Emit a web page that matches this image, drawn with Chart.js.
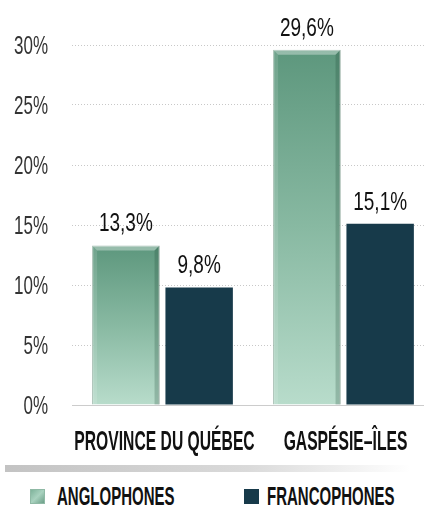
<!DOCTYPE html>
<html>
<head>
<meta charset="utf-8">
<script src="https://cdn.jsdelivr.net/npm/chart.js@4.4.1/dist/chart.umd.min.js"></script>
<style>
  body { margin: 0; width: 424px; height: 510px; overflow: hidden; background: #fff; position: relative; }
  #wrap { position: absolute; left: 0; top: 0; width: 424px; height: 460px; overflow: hidden; }
  .sep { position: absolute; left: 5px; top: 465px; width: 405px; height: 7px;
         background: linear-gradient(to right, #c3c3c3, #dadada 60%, #ffffff); }
  .lg { position: absolute; top: 482px; font-family: 'Liberation Sans', Arial, sans-serif;
        font-size: 25px; font-weight: bold; color: #111; line-height: 28px; white-space: nowrap;
        transform: scaleX(0.6); transform-origin: left top; }
  .sw { position: absolute; top: 489px; width: 15px; height: 15px; }
</style>
</head>
<body>
<div id="wrap"><canvas id="chart" width="434" height="460"></canvas></div>
<div class="sep"></div>
<div class="sw" style="left:30px;background:linear-gradient(135deg,#7fb39b,#a9d2bf 50%,#6c9f88);border:1px solid #8fb9a5;box-sizing:border-box"></div>
<div class="lg" style="left:57px">ANGLOPHONES</div>
<div class="sw" style="left:244px;background:#173a4a"></div>
<div class="lg" style="left:267px">FRANCOPHONES</div>
<script>
const categories = ['PROVINCE DU QUÉBEC', 'GASPÉSIE–ÎLES'];
const anglophones = [13.3, 29.6];
const francophones = [9.8, 15.1];
const yTicks = [0, 5, 10, 15, 20, 25, 30];

const fontFam = "'Liberation Sans', Arial, sans-serif";

// condensed text: the source font is very narrow, so squeeze a normal one
function narrowText(c, txt, x, y, font, sx, align) {
  c.save();
  c.font = font + ' ' + fontFam;
  c.textBaseline = 'alphabetic';
  const w = c.measureText(txt).width * sx;
  let left = x;
  if (align === 'center') left = x - w / 2;
  if (align === 'right') left = x - w;
  c.translate(left, y);
  c.scale(sx, 1);
  c.textAlign = 'left';
  c.fillText(txt, 0, 0);
  c.restore();
}

function greenFill(ctx) {
  const chart = ctx.chart;
  const y = chart.scales.y;
  const fallback = '#86b7a0';
  if (!y || typeof ctx.raw !== 'number') return fallback;
  const top = y.getPixelForValue(ctx.raw);
  const bottom = y.getPixelForValue(0);
  if (!Number.isFinite(top) || !Number.isFinite(bottom)) return fallback;
  const g = chart.ctx.createLinearGradient(0, top, 0, bottom);
  g.addColorStop(0, '#5d977d');
  g.addColorStop(0.5, '#88b9a2');
  g.addColorStop(1, '#b8dccb');
  return g;
}

// bevel shading on the green bars
const bevel = {
  id: 'bevel',
  afterDatasetsDraw(chart) {
    const c = chart.ctx;
    chart.getDatasetMeta(0).data.forEach(bar => {
      const l = bar.x - bar.width / 2, r = bar.x + bar.width / 2;
      const t = bar.y, b = bar.base, d = 5;
      c.save();
      c.fillStyle = 'rgba(255,255,255,0.35)';
      c.beginPath();
      c.moveTo(l, t); c.lineTo(r, t); c.lineTo(r - d, t + d); c.lineTo(l + d, t + d);
      c.closePath(); c.fill();
      c.fillStyle = 'rgba(20,60,40,0.22)';
      c.beginPath();
      c.moveTo(r, t); c.lineTo(r, b); c.lineTo(r - d, b); c.lineTo(r - d, t + d);
      c.closePath(); c.fill();
      c.fillStyle = 'rgba(255,255,255,0.12)';
      c.beginPath();
      c.moveTo(l, t); c.lineTo(l + d, t + d); c.lineTo(l + d, b); c.lineTo(l, b);
      c.closePath(); c.fill();
      c.restore();
    });
  }
};

const textLayer = {
  id: 'textLayer',
  afterDraw(chart) {
    const c = chart.ctx;
    const xs = chart.scales.x, ys = chart.scales.y;
    // y tick labels
    c.fillStyle = '#333';
    ys.ticks.forEach(t => {
      narrowText(c, t.value + '%', 48, ys.getPixelForValue(t.value) + 9, '25px', 0.68, 'right');
    });
    // category labels
    c.fillStyle = '#111';
    categories.forEach((lab, i) => {
      narrowText(c, lab, xs.getPixelForValue(i) + 2, 450, 'bold 28px', 0.56, 'center');
    });
    // value labels
    chart.data.datasets.forEach((ds, i) => {
      chart.getDatasetMeta(i).data.forEach((bar, j) => {
        const txt = ds.data[j].toFixed(1).replace('.', ',') + '%';
        narrowText(c, txt, bar.x, bar.y - 14, '25px', 0.76, 'center');
      });
    });
  }
};

new Chart(document.getElementById('chart'), {
  type: 'bar',
  data: {
    labels: categories,
    datasets: [
      { label: 'ANGLOPHONES', data: anglophones, backgroundColor: greenFill,
        borderColor: '#8fae9f', borderWidth: 1 },
      { label: 'FRANCOPHONES', data: francophones, backgroundColor: '#173a4a',
        borderWidth: 0 }
    ]
  },
  options: {
    responsive: false,
    animation: false,
    devicePixelRatio: 1,
    layout: { padding: { top: 45, left: 0, right: 0, bottom: 0 } },
    categoryPercentage: 0.81,
    barPercentage: 0.92,
    plugins: { legend: { display: false }, tooltip: { enabled: false } },
    scales: {
      x: {
        grid: { display: false },
        border: { display: true, color: '#cccccc', width: 1 },
        ticks: { display: false },
        afterFit(s) { s.height = 55; }
      },
      y: {
        min: 0, max: 30,
        afterBuildTicks(s) { s.ticks = yTicks.map(v => ({ value: v })); },
        grid: { color: '#c8c8c8', drawTicks: false, lineWidth: 1 },
        border: { display: false, dash: [1, 2] },
        ticks: { display: false },
        afterFit(s) { s.width = 72; }
      }
    }
  },
  plugins: [bevel, textLayer]
});
</script>
</body>
</html>
